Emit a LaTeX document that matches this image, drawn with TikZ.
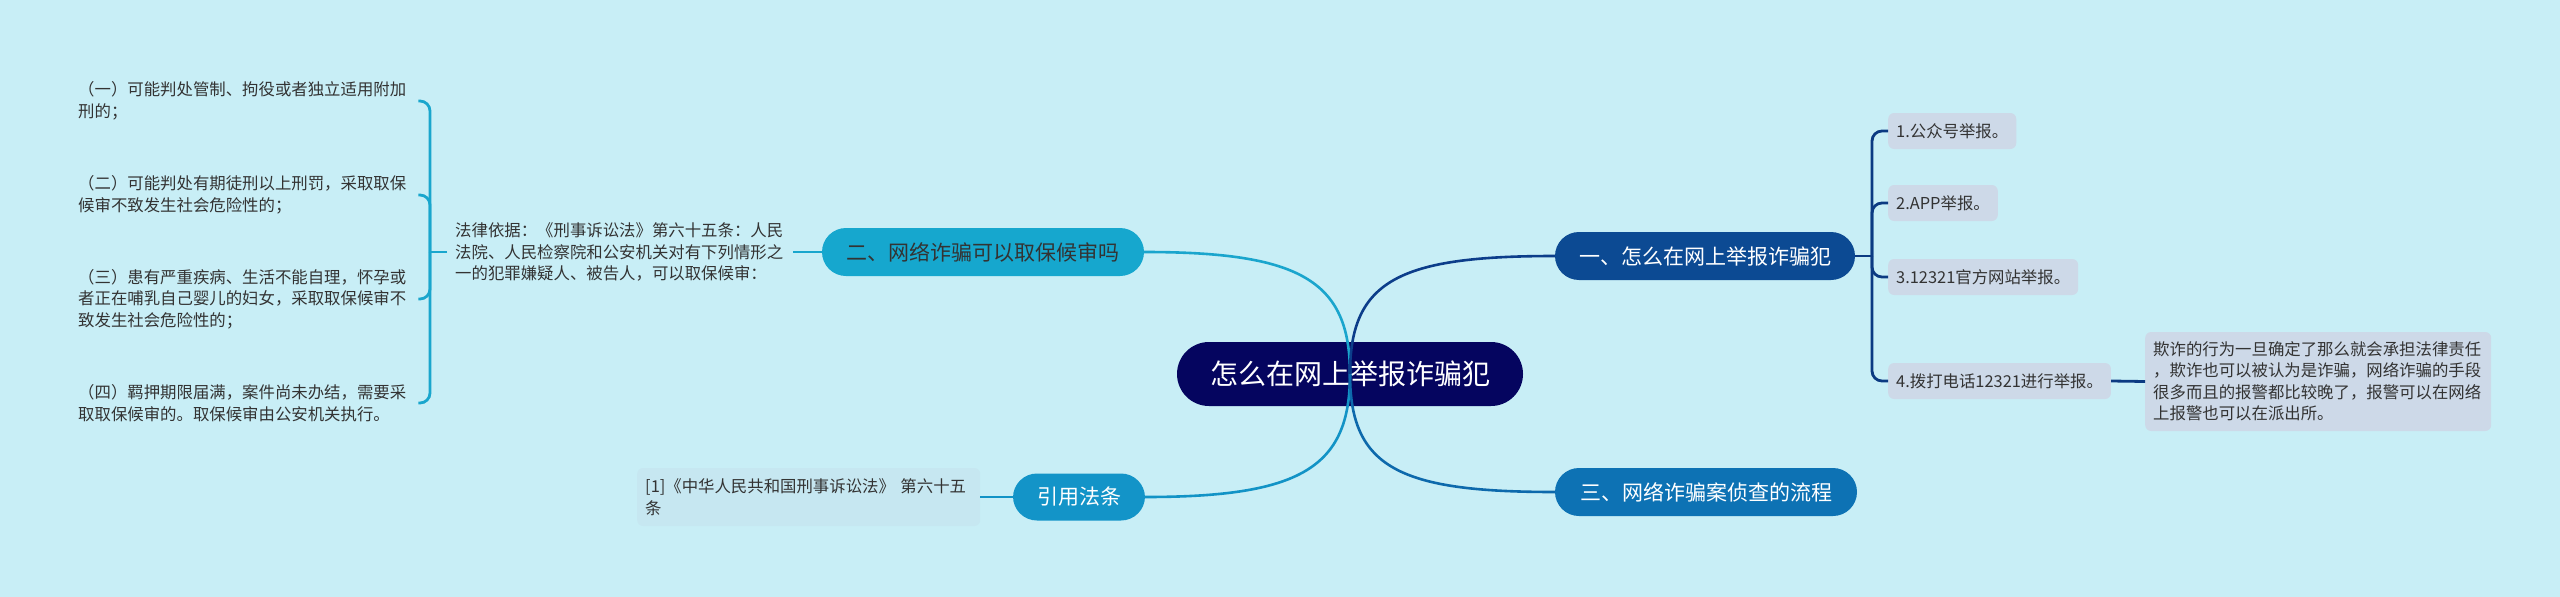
\documentclass[tikz,border=0pt]{standalone}
\usepackage{fontspec}
\setmainfont{Noto Sans CJK SC}
\definecolor{bg}{HTML}{C8EEF6}
\definecolor{cMain}{HTML}{05055F}
\definecolor{cOne}{HTML}{0C4A93}
\definecolor{cThree}{HTML}{0D72B4}
\definecolor{cTwo}{HTML}{16A7CE}
\definecolor{cRef}{HTML}{1394C8}
\definecolor{leafc}{HTML}{CDD9E8}
\definecolor{refc}{HTML}{C6E7F1}
\definecolor{txt}{HTML}{333333}
\definecolor{lTwo}{HTML}{1AA5CD}
\definecolor{lRef}{HTML}{1293C6}
\definecolor{lOne}{HTML}{0C3D8A}
\definecolor{lThree}{HTML}{0D69AC}
\definecolor{lbr}{HTML}{19A6CD}
\definecolor{rbr}{HTML}{0B3A82}
\tikzset{
  x=1pt, y=-1pt,
  small/.style={font=\fontsize{16.4}{21.5}\selectfont, text=txt},
  mainnode/.style={fill=cMain, text=white, rounded corners=32pt, minimum width=346pt, minimum height=64pt, inner sep=0pt, font=\fontsize{28}{32}\selectfont},
  branch/.style={rounded corners=24pt, minimum height=48pt, inner sep=0pt, font=\fontsize{21}{25}\selectfont},
  rleaf/.style={small, fill=leafc, rounded corners=6pt, inner xsep=8pt, inner ysep=0pt, minimum height=36pt, anchor=west},
  ltext/.style={small, anchor=west, inner xsep=8pt, inner ysep=2pt, align=left},
  curve/.style={line width=2.6pt},
  brline/.style={line width=2.8pt, rounded corners=10pt},
}
\begin{document}
\begin{tikzpicture}
\fill[bg] (0,0) rectangle (2560,597);
\useasboundingbox (0,0) rectangle (2560,597);

% central and branch nodes
\node[mainnode] (c) at (1350,374) {怎么在网上举报诈骗犯};
\node[branch, fill=cOne, text=white, minimum width=300pt] (n1) at (1705,256) {一、怎么在网上举报诈骗犯};
\node[branch, fill=cThree, text=white, minimum width=302pt] (n3) at (1706,492) {三、网络诈骗案侦查的流程};
\node[branch, fill=cTwo, text=txt, minimum width=322pt] (n2) at (983,252) {二、网络诈骗可以取保候审吗};
\node[branch, fill=cRef, text=white, minimum width=132pt, minimum height=47pt] (n4) at (1079,497) {引用法条};

% right leaves
\node[rleaf] (r1) at (1888,131) {1.公众号举报。};
\node[rleaf] (r2) at (1888,203) {2.APP举报。};
\node[rleaf] (r3) at (1888,277) {3.12321官方网站举报。};
\node[rleaf] (r4) at (1888,381) {4.拨打电话12321进行举报。};
\node[ltext, fill=leafc, rounded corners=6pt, text width=330pt, minimum height=99pt] (d) at (2145,381.5)
  {欺诈的行为一旦确定了那么就会承担法律责任\\，欺诈也可以被认为是诈骗，网络诈骗的手段\\很多而且的报警都比较晚了，报警可以在网络\\上报警也可以在派出所。};

% left side
\node[ltext, text width=330pt] (lg) at (447,252)
  {法律依据：《刑事诉讼法》第六十五条：人民\\法院、人民检察院和公安机关对有下列情形之\\一的犯罪嫌疑人、被告人，可以取保候审：};
\node[ltext, text width=332pt] (L1) at (70,101)
  {（一）可能判处管制、拘役或者独立适用附加\\刑的；};
\node[ltext, text width=332pt] (L2) at (70,195)
  {（二）可能判处有期徒刑以上刑罚，采取取保\\候审不致发生社会危险性的；};
\node[ltext, text width=332pt] (L3) at (70,299)
  {（三）患有严重疾病、生活不能自理，怀孕或\\者正在哺乳自己婴儿的妇女，采取取保候审不\\致发生社会危险性的；};
\node[ltext, text width=332pt] (L4) at (70,403)
  {（四）羁押期限届满，案件尚未办结，需要采\\取取保候审的。取保候审由公安机关执行。};
\node[ltext, fill=refc, rounded corners=6pt, text width=327pt, minimum height=58pt] (rf) at (637,497)
  {[1]《中华人民共和国刑事诉讼法》 第六十五\\条};

% main curves
\draw[curve, lTwo] (n2.east) .. controls +(155,0) and +(0,-94) .. (c.center);
\draw[curve, lRef] (n4.east) .. controls +(155,0) and +(0,94) .. (c.center);
\draw[curve, lOne] (n1.west) .. controls +(-155,0) and +(0,-94) .. (c.center);
\draw[curve, lThree] (n3.west) .. controls +(-155,0) and +(0,94) .. (c.center);

% right bracket
\coordinate (rb) at (1872,256);
\draw[brline, rbr] (n1.east) -- (rb);
\draw[brline, rbr] (rb) |- (r1.west);
\draw[brline, rbr] (rb) |- (r2.west);
\draw[brline, rbr] (rb) |- (r3.west);
\draw[brline, rbr] (rb) |- (r4.west);
\draw[brline, rbr] (r4.east) -- (d.west);

% left bracket
\coordinate (lb) at (430,252);
\draw[brline, lbr] (n2.west) -- (lg.east);
\draw[brline, lbr] (lg.west) -- (lb);
\draw[brline, lbr] (lb) |- (L1.east);
\draw[brline, lbr] (lb) |- (L2.east);
\draw[brline, lbr] (lb) |- (L3.east);
\draw[brline, lbr] (lb) |- (L4.east);
\draw[brline, lRef] (n4.west) -- (rf.east);
\end{tikzpicture}
\end{document}
